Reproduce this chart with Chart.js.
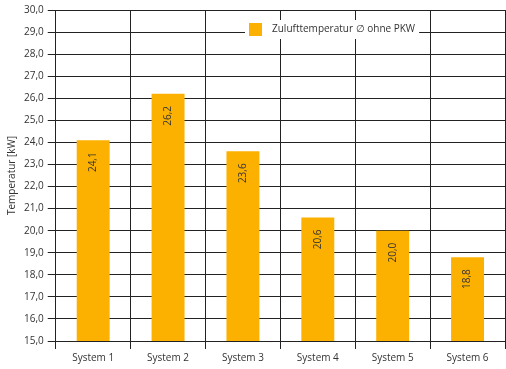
<!DOCTYPE html>
<html>
<head>
<meta charset="utf-8">
<script src="https://cdn.jsdelivr.net/npm/chart.js@4.4.1/dist/chart.umd.min.js"></script>
<style>
  html, body { margin: 0; padding: 0; background: #fff; }
  #wrap { width: 506px; height: 369px; }
</style>
</head>
<body>
<div id="wrap"><canvas id="chart"></canvas></div>
<script>
const categories = ['System 1', 'System 2', 'System 3', 'System 4', 'System 5', 'System 6'];
const temps = [24.1, 26.2, 23.6, 20.6, 20.0, 18.8];
const seriesLabel = 'Zulufttemperatur \u2205 ohne PKW';
const axisTitle = 'Temperatur [kW]';

const barColor = '#FCB100';
const textColor = '#333333';
const gridColor = '#222222';
const fontFamily = "'Open Sans', sans-serif";

const fmt = v => v.toFixed(1).replace('.', ',');

// rotated value labels near the top of each bar
const valueLabels = {
  id: 'valueLabels',
  afterDatasetsDraw(chart) {
    const ctx = chart.ctx;
    const meta = chart.getDatasetMeta(0);
    ctx.save();
    ctx.fillStyle = textColor;
    ctx.font = '10px ' + fontFamily;
    ctx.textAlign = 'center';
    ctx.textBaseline = 'middle';
    meta.data.forEach((bar, i) => {
      ctx.save();
      ctx.translate(bar.x, bar.y + 22);
      ctx.rotate(-Math.PI / 2);
      ctx.fillText(fmt(temps[i]), 0, 0);
      ctx.restore();
    });
    ctx.restore();
  }
};

// legend sitting inside the plot, with white box over the grid
const innerLegend = {
  id: 'innerLegend',
  beforeDatasetsDraw(chart) {
    const ctx = chart.ctx;
    ctx.save();
    ctx.font = '10px ' + fontFamily;
    const tw = ctx.measureText(seriesLabel).width;
    const x = 245, y = 20;
    const w = 13 + 10 + tw + 8, h = 19;
    ctx.fillStyle = '#fff';
    ctx.fillRect(x, y, w, h);
    ctx.fillStyle = barColor;
    ctx.fillRect(x + 4, y + 3, 13, 13);
    ctx.fillStyle = textColor;
    ctx.textBaseline = 'middle';
    ctx.fillText(seriesLabel, x + 27, y + h / 2);
    ctx.restore();
  }
};

new Chart(document.getElementById('chart'), {
  type: 'bar',
  data: {
    labels: categories,
    datasets: [{
      label: seriesLabel,
      data: temps,
      backgroundColor: barColor,
      barPercentage: 0.44,
      categoryPercentage: 1
    }]
  },
  options: {
    responsive: true,
    maintainAspectRatio: false,
    animation: false,
    layout: { padding: { top: 2, right: 1, bottom: 2, left: 4 } },
    plugins: {
      legend: { display: false },
      tooltip: { enabled: false }
    },
    scales: {
      x: {
        grid: { color: gridColor, lineWidth: 1, tickLength: 8, offset: true },
        border: { color: gridColor },
        ticks: { color: textColor, font: { family: fontFamily, size: 10 }, padding: 3 }
      },
      y: {
        min: 15,
        max: 30,
        grid: { color: gridColor, lineWidth: 1, tickLength: 8 },
        border: { color: gridColor },
        title: { display: true, text: axisTitle, color: textColor, font: { family: fontFamily, size: 10 }, padding: 2 },
        ticks: {
          stepSize: 1,
          color: textColor,
          font: { family: fontFamily, size: 10 },
          padding: 4,
          callback: v => fmt(v)
        }
      }
    }
  },
  plugins: [innerLegend, valueLabels]
});
</script>
</body>
</html>
